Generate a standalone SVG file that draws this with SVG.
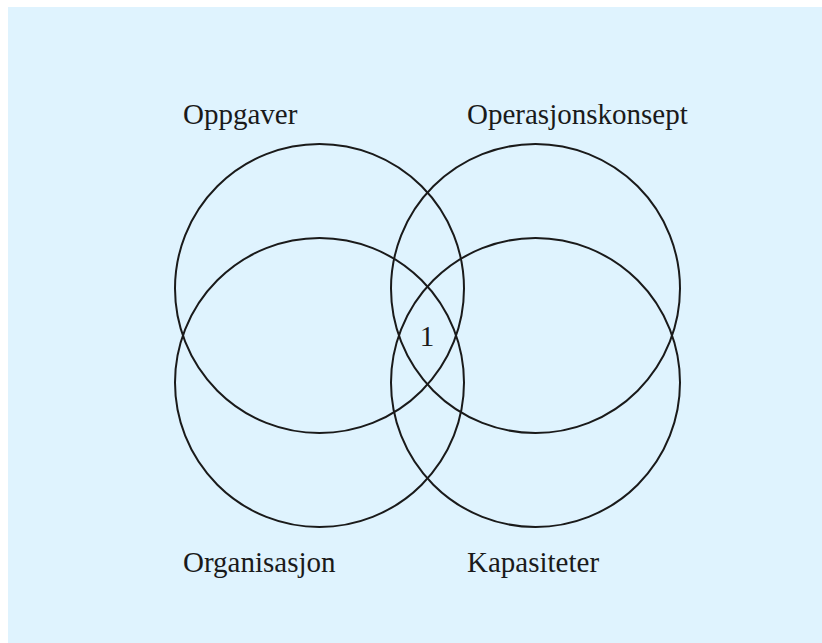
<svg xmlns="http://www.w3.org/2000/svg" width="822" height="643" viewBox="0 0 822 643">
<style>
.c{fill:none;stroke:#1a1a1a;stroke-width:2}
.t{font-family:"Liberation Serif","Times New Roman",serif;font-size:29px;fill:#1a1a1a}
</style>
<rect x="0" y="0" width="822" height="643" fill="#ffffff"/>
<rect x="8" y="7" width="814" height="636" fill="#dff3fe"/>
<g id="oppgaver"><circle class="c" cx="319.5" cy="288.5" r="144.5"/><text class="t" x="183" y="124">Oppgaver</text></g>
<g id="operasjonskonsept"><circle class="c" cx="535.5" cy="288.5" r="144.5"/><text class="t" x="467" y="124">Operasjonskonsept</text></g>
<g id="organisasjon"><circle class="c" cx="319.5" cy="382.5" r="144.5"/><text class="t" x="183" y="572">Organisasjon</text></g>
<g id="kapasiteter"><circle class="c" cx="535.5" cy="382.5" r="144.5"/><text class="t" x="467" y="572">Kapasiteter</text></g>
<g id="center"><text class="t" x="427" y="346" text-anchor="middle">1</text></g>
</svg>
